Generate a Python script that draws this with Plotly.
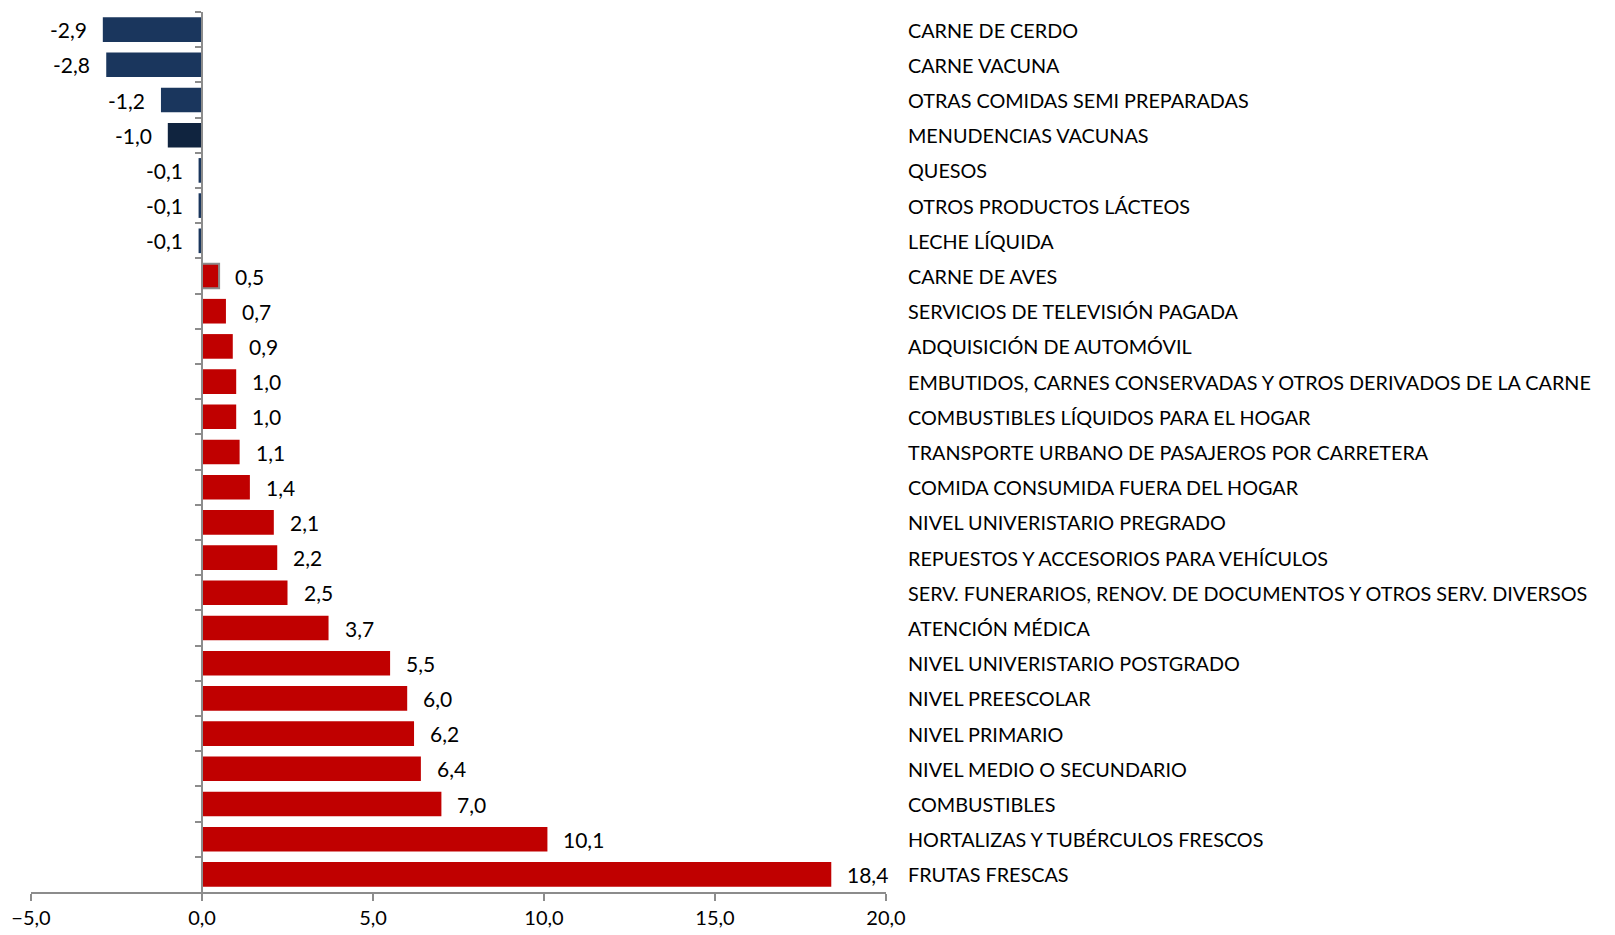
"""Horizontal bar chart: contribution by item (negative in navy, positive in red)."""

import plotly.graph_objects as go

categories = [
    "CARNE DE CERDO",
    "CARNE VACUNA",
    "OTRAS COMIDAS SEMI PREPARADAS",
    "MENUDENCIAS VACUNAS",
    "QUESOS",
    "OTROS PRODUCTOS LÁCTEOS",
    "LECHE LÍQUIDA",
    "CARNE DE AVES",
    "SERVICIOS DE TELEVISIÓN PAGADA",
    "ADQUISICIÓN DE AUTOMÓVIL",
    "EMBUTIDOS, CARNES CONSERVADAS Y OTROS DERIVADOS DE LA CARNE",
    "COMBUSTIBLES LÍQUIDOS PARA EL HOGAR",
    "TRANSPORTE URBANO DE PASAJEROS POR CARRETERA",
    "COMIDA CONSUMIDA FUERA DEL HOGAR",
    "NIVEL UNIVERISTARIO PREGRADO",
    "REPUESTOS Y ACCESORIOS PARA VEHÍCULOS",
    "SERV. FUNERARIOS, RENOV. DE DOCUMENTOS Y OTROS SERV. DIVERSOS",
    "ATENCIÓN MÉDICA",
    "NIVEL UNIVERISTARIO POSTGRADO",
    "NIVEL PREESCOLAR",
    "NIVEL PRIMARIO",
    "NIVEL MEDIO O SECUNDARIO",
    "COMBUSTIBLES",
    "HORTALIZAS Y TUBÉRCULOS FRESCOS",
    "FRUTAS FRESCAS",
]
values = [-2.9, -2.8, -1.2, -1.0, -0.1, -0.1, -0.1, 0.5, 0.7, 0.9, 1.0, 1.0, 1.1,
          1.4, 2.1, 2.2, 2.5, 3.7, 5.5, 6.0, 6.2, 6.4, 7.0, 10.1, 18.4]

NAVY = "#1a365d"
NAVY_DARK = "#10243f"
RED = "#c00000"
AXIS = "#8c8c8c"
FONT = "Lato, 'Open Sans', sans-serif"

# the page body adds an 8px margin, so the figure is drawn 8px smaller
# and every pixel position below is shifted by that offset
PAGE_PAD = 8
W, H = 1615 - PAGE_PAD, 935 - PAGE_PAD
X_RANGE = [-5, 20]
DOMAIN = [(31 - PAGE_PAD) / W, (886 - PAGE_PAD) / W]
LABEL_X = (906 - PAGE_PAD) / W


def fmt(v: float) -> str:
    return f"{v:.1f}".replace(".", ",")


colors = []
for cat, v in zip(categories, values):
    if v >= 0:
        colors.append(RED)
    elif cat == "MENUDENCIAS VACUNAS":
        colors.append(NAVY_DARK)
    else:
        colors.append(NAVY)
outline = [AXIS if cat == "CARNE DE AVES" else c for cat, c in zip(categories, colors)]
outline_w = [2 if cat == "CARNE DE AVES" else 0 for cat in categories]

fig = go.Figure(
    go.Bar(
        x=values, y=categories, orientation="h",
        marker={"color": colors, "line": {"color": outline, "width": outline_w}},
        width=0.7, hoverinfo="skip",
    )
)

# value labels next to each bar
for cat, v in zip(categories, values):
    fig.add_annotation(
        x=v, y=cat, xref="x", yref="y", text=fmt(v), showarrow=False,
        xanchor="right" if v < 0 else "left", xshift=-14 if v < 0 else 14,
        font={"size": 21, "color": "#000000", "family": FONT},
    )

# category names to the right of the plot
for cat in categories:
    fig.add_annotation(
        x=LABEL_X, y=cat, xref="paper", yref="y", text=cat, showarrow=False,
        xanchor="left", font={"size": 19.8, "color": "#000000", "family": FONT},
    )

zero_pos = DOMAIN[0] + (0 - X_RANGE[0]) / (X_RANGE[1] - X_RANGE[0]) * (DOMAIN[1] - DOMAIN[0])

fig.update_layout(
    width=W, height=H,
    margin={"l": 0, "r": 0, "t": 12 - PAGE_PAD, "b": 43, "autoexpand": False},
    plot_bgcolor="white", paper_bgcolor="white",
    separators=",.",
    showlegend=False,
    font={"family": FONT, "size": 20, "color": "#000000"},
    xaxis={
        "domain": DOMAIN, "range": X_RANGE, "dtick": 5, "tickformat": ".1f",
        "automargin": False,
        "showgrid": False, "zeroline": False, "showline": True,
        "linecolor": AXIS, "linewidth": 1.5,
        "ticks": "outside", "ticklen": 7, "tickcolor": AXIS, "tickwidth": 1.5,
    },
    yaxis={
        "anchor": "free", "position": zero_pos, "automargin": False,
        "categoryorder": "array", "categoryarray": categories,
        "autorange": "reversed", "showticklabels": False,
        "showgrid": False, "zeroline": False, "showline": True,
        "linecolor": AXIS, "linewidth": 1.5,
        "ticks": "outside", "tickson": "boundaries", "ticklen": 6,
        "tickcolor": AXIS, "tickwidth": 1.5,
    },
)

fig.write_html("out.html")
